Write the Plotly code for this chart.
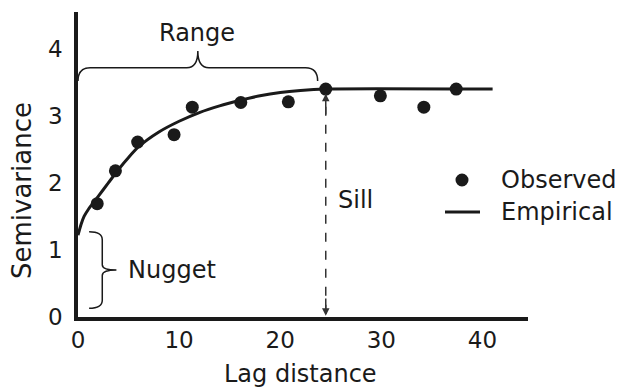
import plotly.graph_objects as go

# Observed semivariance (lag distance, semivariance)
obs_lag = [1.9, 3.7, 5.9, 9.5, 11.3, 16.1, 20.8, 24.5, 29.9, 34.2, 37.4]
obs_val = [1.69, 2.18, 2.61, 2.72, 3.13, 3.20, 3.21, 3.40, 3.30, 3.13, 3.40]

# Fitted (empirical) model curve
fit_lag = [0.0, 0.3, 0.6, 1.0, 1.5, 2.0, 3.0, 4.0, 5.0, 6.0, 8.0, 10.0, 12.0, 14.0, 16.0, 18.0, 20.0, 22.0, 24.5, 41.0]
fit_val = [1.22, 1.38, 1.50, 1.60, 1.70, 1.80, 2.00, 2.20, 2.38, 2.54, 2.76, 2.92, 3.05, 3.15, 3.23, 3.30, 3.35, 3.38, 3.40, 3.40]

x_ticks = [0, 10, 20, 30, 40]
y_ticks = [0, 1, 2, 3, 4]

series_names = ["Observed", "Empirical"]

sill_x = 24.5
sill_y = 3.40
range_end = 23.7

FONT = "DejaVu Sans, Liberation Sans, Arial, sans-serif"
INK = "#1a1a1a"

W, H = 617, 387
ML, MR, MT, MB = 78, 89, 12, 70
PW, PH = W - ML - MR, H - MT - MB


def px(xp):
    return (xp - ML) / PW


def py(yp):
    return (H - MB - yp) / PH


fig = go.Figure()
fig.add_trace(go.Scatter(x=obs_lag, y=obs_val, mode="markers", name=series_names[0],
                         marker=dict(size=13, color=INK), showlegend=False))
fig.add_trace(go.Scatter(x=fit_lag, y=fit_val, mode="lines", name=series_names[1],
                         line=dict(color=INK, width=3, shape="spline", smoothing=0.6), showlegend=False))

# Range brace (horizontal)
by, be, bt = 3.72, 3.52, 3.97
mid = range_end / 2
range_path = (f"M 0,{be} Q 0,{by} 1.2,{by} L {mid-1.1},{by} Q {mid},{by} {mid},{bt} "
              f"Q {mid},{by} {mid+1.1},{by} L {range_end-1.2},{by} Q {range_end},{by} {range_end},{be}")
fig.add_shape(type="path", path=range_path, xref="x", yref="y",
              line=dict(color=INK, width=1.5))

# Nugget brace (vertical)
nx0, nx1, nx2 = 1.1, 2.4, 3.8
ny0, ny1 = 0.13, 1.27
nm = (ny0 + ny1) / 2
nug_path = (f"M {nx0},{ny1} Q {nx1},{ny1} {nx1},{ny1-0.12} L {nx1},{nm+0.08} Q {nx1},{nm} {nx2},{nm} "
            f"Q {nx1},{nm} {nx1},{nm-0.08} L {nx1},{ny0+0.12} Q {nx1},{ny0} {nx0},{ny0}")
fig.add_shape(type="path", path=nug_path, xref="x", yref="y",
              line=dict(color=INK, width=1.5))

# Sill dashed double arrow
fig.add_shape(type="line", x0=sill_x, x1=sill_x, y0=0.05, y1=sill_y - 0.08, xref="x", yref="y",
              line=dict(color="#333", width=1.5, dash="dash"))
for yh, ya in [(0.02, 0.3), (sill_y - 0.07, sill_y - 0.4)]:
    fig.add_annotation(x=sill_x, y=yh, ax=sill_x, ay=ya, axref="x", ayref="y", xref="x", yref="y",
                       showarrow=True, arrowhead=2, arrowsize=1, arrowwidth=1.5, arrowcolor="#333", text="")

fs = 24
fig.add_annotation(x=11.8, y=4.24, text="Range", showarrow=False, font=dict(size=fs, color=INK, family=FONT))
fig.add_annotation(x=9.3, y=0.70, text="Nugget", showarrow=False, font=dict(size=fs, color=INK, family=FONT))
fig.add_annotation(x=27.4, y=1.75, text="Sill", showarrow=False, font=dict(size=fs, color=INK, family=FONT))

# Axis titles
fig.add_annotation(x=px(22), y=py(191), xref="paper", yref="paper", text="Semivariance",
                   xanchor="center", yanchor="middle",
                   textangle=-90, showarrow=False, font=dict(size=26, color=INK, family=FONT))
fig.add_annotation(x=px(300), y=py(374), xref="paper", yref="paper", text="Lag distance",
                   xanchor="center", yanchor="middle",
                   showarrow=False, font=dict(size=fs, color=INK, family=FONT))

# Legend (drawn manually)
fig.add_shape(type="circle", xref="paper", yref="paper",
              x0=px(455.5), x1=px(468.5), y0=py(186.5), y1=py(173.5),
              fillcolor=INK, line=dict(color=INK, width=0))
fig.add_shape(type="line", xref="paper", yref="paper",
              x0=px(445), x1=px(480), y0=py(212), y1=py(212), line=dict(color=INK, width=3))
for name, yp in zip(series_names, [180, 212]):
    fig.add_annotation(x=px(499), y=py(yp), xref="paper", yref="paper", text=name, showarrow=False,
                       xanchor="left", yanchor="middle", font=dict(size=fs, color=INK, family=FONT))

fig.update_xaxes(range=[0, 44.5], tickvals=x_ticks, showgrid=False, zeroline=False,
                 showline=True, linecolor=INK, linewidth=3.5, ticks="", ticklabelstandoff=0,
                 tickfont=dict(size=23, color=INK, family=FONT))
fig.update_yaxes(range=[0, 4.55], tickvals=y_ticks, showgrid=False, zeroline=False,
                 showline=True, linecolor=INK, linewidth=3.5, ticks="", ticklabelstandoff=7,
                 tickfont=dict(size=23, color=INK, family=FONT))

fig.update_layout(
    width=W, height=H,
    margin=dict(l=ML, r=MR, t=MT, b=MB),
    plot_bgcolor="white", paper_bgcolor="white",
    showlegend=False,
)

fig.write_html("out.html")
